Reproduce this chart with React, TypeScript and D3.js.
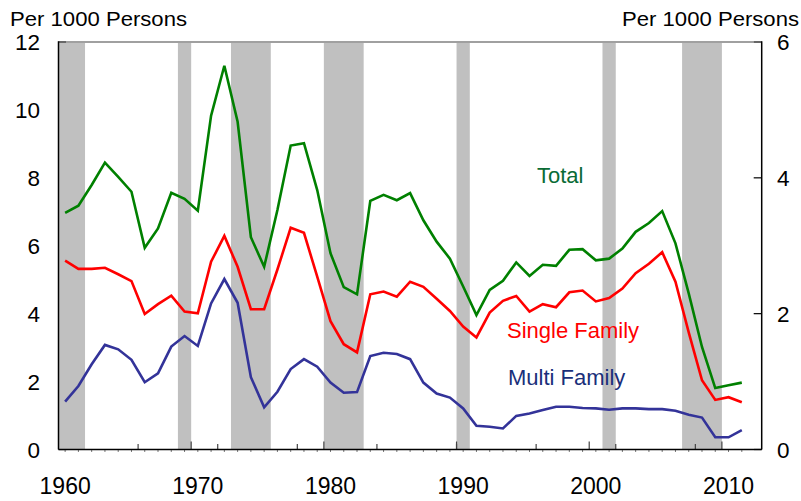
import React from "react";
import * as d3 from "d3";

const years: number[] = d3.range(1960, 2012);

const totalValues: number[] = [
  6.97, 7.18, 7.79, 8.45, 8.03, 7.59, 5.94, 6.51, 7.56, 7.38,
  7.03, 9.83, 11.3, 9.65, 6.25, 5.38, 7.05, 8.95, 9.02, 7.64,
  5.78, 4.78, 4.57, 7.32, 7.5, 7.34, 7.55, 6.75, 6.12, 5.62,
  4.8, 3.96, 4.7, 4.97, 5.51, 5.11, 5.44, 5.41, 5.88, 5.9,
  5.57, 5.62, 5.92, 6.41, 6.67, 7.02, 6.07, 4.6, 3.02, 1.81,
  1.89, 1.97,
];

const singleValues: number[] = [
  5.56, 5.32, 5.32, 5.35, 5.16, 4.96, 3.99, 4.28, 4.53, 4.06,
  4.01, 5.53, 6.29, 5.38, 4.13, 4.13, 5.3, 6.53, 6.38, 5.09,
  3.78, 3.1, 2.86, 4.57, 4.65, 4.5, 4.94, 4.79, 4.44, 4.08,
  3.62, 3.3, 4.03, 4.38, 4.52, 4.06, 4.28, 4.19, 4.63, 4.68,
  4.36, 4.46, 4.74, 5.19, 5.47, 5.81, 4.94, 3.45, 2.04, 1.46,
  1.54, 1.39,
];

const multiValues: number[] = [
  1.41, 1.87, 2.51, 3.08, 2.95, 2.64, 1.98, 2.24, 3.03, 3.34,
  3.05, 4.3, 5.02, 4.32, 2.13, 1.24, 1.7, 2.37, 2.66, 2.44,
  1.97, 1.67, 1.69, 2.75, 2.85, 2.81, 2.66, 1.97, 1.65, 1.53,
  1.21, 0.7, 0.67, 0.62, 0.99, 1.06, 1.16, 1.26, 1.26, 1.22,
  1.21, 1.17, 1.21, 1.21, 1.19, 1.19, 1.14, 1.02, 0.94, 0.36,
  0.36, 0.57,
];

// recession shading [start, end] in years
const recessions: [number, number][] = [
  [1960, 1962],
  [1969, 1970],
  [1973, 1976],
  [1980, 1983],
  [1990, 1991],
  [2001, 2002],
  [2007, 2010],
];

const leftTicks: number[] = [0, 2, 4, 6, 8, 10, 12];
const rightTicks: number[] = [0, 2, 4, 6];
const yearLabels: number[] = [1960, 1970, 1980, 1990, 2000, 2010];
const decadeTicks: number[] = [1970, 1980, 1990, 2000, 2010];
const sixYearTicks: number[] = [1966, 1972, 1978, 1984, 1990, 1996, 2002, 2008];

const W = 801;
const H = 501;
const L = 58.5;
const R = 761.7;
const T = 42;
const B = 449.5;
const FONT = "'Liberation Sans', Arial, Helvetica, sans-serif";

export default function App() {
  const x = d3.scaleLinear().domain([1960, 2013]).range([L, R]);
  const yL = d3.scaleLinear().domain([0, 12]).range([B, T]);
  const yR = d3.scaleLinear().domain([0, 6]).range([B, T]);

  const line = (vals: number[]) =>
    d3
      .line<number>()
      .x((_, i) => x(years[i] + 0.5))
      .y((v) => yL(v))(vals) as string;

  const series = [
    { vals: totalValues, color: "#008000" },
    { vals: singleValues, color: "#ff0000" },
    { vals: multiValues, color: "#333399" },
  ];

  return (
    <svg
      width={W}
      height={H}
      style={{ position: "absolute", left: 0, top: 0, background: "#fff" }}
      fontFamily={FONT}
    >
      <rect x={0} y={0} width={W} height={H} fill="#fff" />
      {/* left ticks (inward) */}
      {leftTicks.map((t) => (
        <line key={"lt" + t} x1={L} x2={L + 8} y1={yL(t)} y2={yL(t)} stroke="#000" strokeWidth={1.2} />
      ))}
      {/* recession bars */}
      {recessions.map(([a, b], i) => (
        <rect key={"r" + i} x={x(a)} y={T + 1} width={x(b) - x(a)} height={B - T - 1} fill="#c0c0c0" />
      ))}
      {/* top border */}
      <line x1={L + 8} x2={R - 8} y1={T} y2={T} stroke="#808080" strokeWidth={1.6} />
      {/* right ticks inward */}
      {rightTicks.map((t) => (
        <line key={"rt" + t} x1={R - 8} x2={R} y1={yR(t)} y2={yR(t)} stroke="#000" strokeWidth={1.2} />
      ))}
      {/* bottom ticks */}
      {years.map((yr) => (
        <line key={"mt" + yr} x1={x(yr + 0.5)} x2={x(yr + 0.5)} y1={B} y2={B + 2.5} stroke="#555" strokeWidth={0.8} />
      ))}
      {sixYearTicks.map((yr) => (
        <line key={"st" + yr} x1={x(yr)} x2={x(yr)} y1={B} y2={B - 5.5} stroke="#444" strokeWidth={1.2} />
      ))}
      {decadeTicks.map((yr) => (
        <line key={"dt" + yr} x1={x(yr)} x2={x(yr)} y1={B} y2={B - 8} stroke="#444" strokeWidth={1.2} />
      ))}
      {/* series lines */}
      {series.map((s, i) => (
        <path key={"s" + i} d={line(s.vals)} fill="none" stroke={s.color} strokeWidth={2.6} strokeLinejoin="miter" />
      ))}
      {/* axes */}
      <line x1={L} x2={L} y1={T - 0.8} y2={B} stroke="#000" strokeWidth={1.5} />
      <line x1={R} x2={R} y1={T - 0.8} y2={B} stroke="#000" strokeWidth={1.5} />
      <line x1={L} x2={R} y1={B} y2={B} stroke="#000" strokeWidth={1.5} />
      {/* left labels */}
      {leftTicks.map((t) => (
        <text key={"ll" + t} x={40} y={yL(t) + 8} textAnchor="end" fontSize={22.5} fill="#000">
          {t}
        </text>
      ))}
      {/* right labels */}
      {rightTicks.map((t) => (
        <text key={"rl" + t} x={777} y={yR(t) + 8} textAnchor="start" fontSize={22.5} fill="#000">
          {t}
        </text>
      ))}
      {/* year labels */}
      {yearLabels.map((yr) => (
        <text key={"yl" + yr} x={x(yr + 0.5)} y={494} textAnchor="middle" fontSize={23} fill="#000">
          {yr}
        </text>
      ))}
      {/* titles */}
      <text x={10} y={26} fontSize={21} fill="#000" textLength={177} lengthAdjust="spacingAndGlyphs">
        Per 1000 Persons
      </text>
      <text x={622} y={26} fontSize={21} fill="#000" textLength={177} lengthAdjust="spacingAndGlyphs">
        Per 1000 Persons
      </text>
      {/* series labels */}
      <text x={537} y={183} fontSize={22} fill="#0a6b35">
        Total
      </text>
      <text x={507} y={338} fontSize={22} fill="#ff0000">
        Single Family
      </text>
      <text x={508} y={384.5} fontSize={22} fill="#1a2f7a">
        Multi Family
      </text>
    </svg>
  );
}
